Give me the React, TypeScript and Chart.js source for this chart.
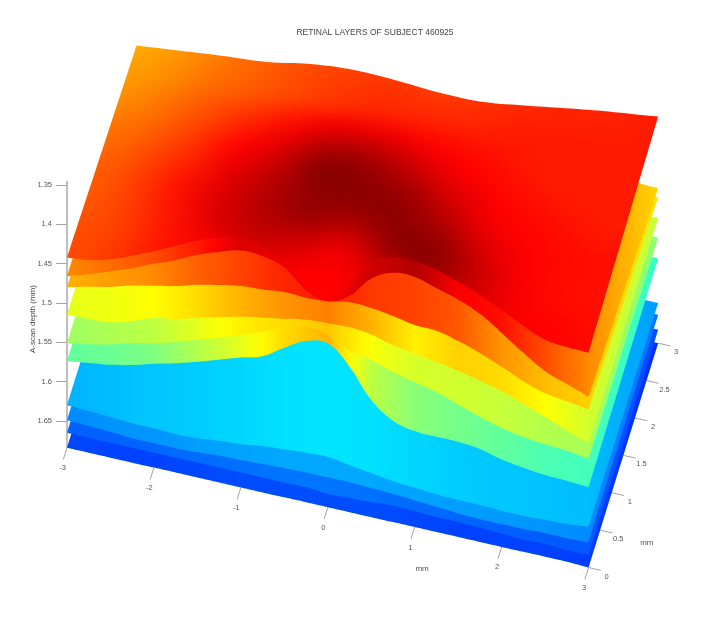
import React, { useEffect, useRef } from "react";
import { Chart, registerables } from "chart.js";

Chart.register(...registerables);

const titleText = "RETINAL LAYERS OF SUBJECT 460925";
const depthAxisTitle = "A-scan depth (mm)";
const axisUnit = "mm";
const depthTicks = [1.35, 1.4, 1.45, 1.5, 1.55, 1.6, 1.65];
const lateralTicks = [-3, -2, -1, 0, 1, 2, 3];
const elevationTicks = [0, 0.5, 1, 1.5, 2, 2.5, 3];

// Depth (mm) of each retinal surface along the front edge, x = -3 .. 3 every 0.25 mm
const surface1Front = [1.442, 1.439, 1.432, 1.421, 1.409, 1.396, 1.383, 1.373, 1.367, 1.373, 1.386, 1.409, 1.421, 1.395, 1.36, 1.348, 1.346, 1.351, 1.36, 1.37, 1.383, 1.397, 1.408, 1.411, 1.412];
const surface2Front = [1.466, 1.457, 1.447, 1.437, 1.425, 1.414, 1.401, 1.391, 1.383, 1.384, 1.392, 1.414, 1.422, 1.409, 1.381, 1.367, 1.366, 1.374, 1.382, 1.394, 1.412, 1.431, 1.448, 1.458, 1.468];
const surface3Front = [1.48, 1.473, 1.467, 1.459, 1.453, 1.447, 1.439, 1.433, 1.428, 1.426, 1.423, 1.424, 1.422, 1.417, 1.418, 1.422, 1.427, 1.428, 1.435, 1.444, 1.455, 1.467, 1.476, 1.48, 1.484];
const surface4Front = [1.515, 1.514, 1.512, 1.504, 1.494, 1.489, 1.481, 1.474, 1.467, 1.462, 1.457, 1.452, 1.45, 1.449, 1.452, 1.459, 1.464, 1.468, 1.473, 1.479, 1.486, 1.496, 1.506, 1.517, 1.527];
const surface5Front = [1.551, 1.546, 1.54, 1.532, 1.526, 1.518, 1.509, 1.5, 1.49, 1.48, 1.469, 1.461, 1.465, 1.479, 1.484, 1.493, 1.5, 1.506, 1.516, 1.525, 1.533, 1.538, 1.541, 1.543, 1.547];
const surface6Front = [1.574, 1.57, 1.566, 1.56, 1.552, 1.545, 1.537, 1.528, 1.519, 1.511, 1.494, 1.479, 1.476, 1.499, 1.535, 1.555, 1.562, 1.563, 1.563, 1.566, 1.573, 1.577, 1.58, 1.581, 1.583];
const surface7Front = [1.63, 1.631, 1.632, 1.634, 1.634, 1.635, 1.634, 1.631, 1.629, 1.625, 1.623, 1.621, 1.62, 1.624, 1.628, 1.632, 1.634, 1.636, 1.637, 1.637, 1.638, 1.638, 1.637, 1.636, 1.633];
const surface8Front = [1.649, 1.65, 1.651, 1.653, 1.653, 1.653, 1.652, 1.65, 1.649, 1.648, 1.647, 1.646, 1.646, 1.646, 1.647, 1.648, 1.65, 1.652, 1.654, 1.655, 1.655, 1.655, 1.654, 1.654, 1.653];
const surface9Front = [1.665, 1.665, 1.665, 1.665, 1.665, 1.665, 1.665, 1.665, 1.665, 1.665, 1.665, 1.665, 1.667, 1.666, 1.665, 1.663, 1.664, 1.665, 1.665, 1.666, 1.667, 1.668, 1.668, 1.669, 1.669];
const surface10Front = [1.684, 1.684, 1.684, 1.684, 1.684, 1.684, 1.684, 1.684, 1.684, 1.684, 1.684, 1.684, 1.684, 1.684, 1.684, 1.684, 1.684, 1.684, 1.684, 1.684, 1.684, 1.684, 1.684, 1.684, 1.685];

// Depth (mm) of each surface at the back-right corner (x = 3, y = 3)
const surfaceBackRight = [1.394, 1.485, 1.497, 1.523, 1.548, 1.574, 1.631, 1.646, 1.665, 1.682];
// Depth (mm) of the top surface along its back edge, x = -3 .. 3 every 0.5 mm
const surface1Back = [1.455, 1.449, 1.443, 1.438, 1.428, 1.423, 1.424, 1.427, 1.426, 1.418, 1.409, 1.401, 1.394];

// Colour-map position of each exposed ribbon, x = -3 .. 3 every 0.5 mm, then the far right edge
const ribbon2Shade = [0.74, 0.77, 0.8, 0.85, 0.91, 0.89, 0.88, 0.92, 0.95, 0.88, 0.86, 0.8, 0.74, 0.665];
const ribbon3Shade = [0.7, 0.72, 0.74, 0.78, 0.81, 0.84, 0.85, 0.82, 0.81, 0.79, 0.73, 0.69, 0.67, 0.65];
const ribbon4Shade = [0.6, 0.61, 0.625, 0.66, 0.7, 0.73, 0.75, 0.7, 0.64, 0.67, 0.66, 0.625, 0.58, 0.57];
const ribbon5Shade = [0.53, 0.545, 0.56, 0.6, 0.64, 0.66, 0.68, 0.62, 0.585, 0.58, 0.57, 0.55, 0.54, 0.51];
const ribbon6Shade = [0.47, 0.48, 0.5, 0.55, 0.6, 0.66, 0.7, 0.56, 0.51, 0.49, 0.47, 0.45, 0.44, 0.43];
const ribbon7Shade = [0.3, 0.31, 0.32, 0.325, 0.335, 0.345, 0.35, 0.345, 0.335, 0.325, 0.32, 0.315, 0.31, 0.28];
const ribbon8Shade = [0.26, 0.27, 0.27, 0.28, 0.285, 0.29, 0.29, 0.29, 0.285, 0.28, 0.275, 0.27, 0.26, 0.24];
const ribbon9Shade = [0.22, 0.22, 0.225, 0.23, 0.235, 0.24, 0.24, 0.235, 0.23, 0.225, 0.22, 0.215, 0.21, 0.2];
const ribbon10Shade = [0.195, 0.19, 0.19, 0.195, 0.2, 0.2, 0.2, 0.2, 0.195, 0.19, 0.19, 0.19, 0.185, 0.17];

// Colour-map position across the top surface: rows y = 0 .. 3 every 0.25, columns x = -3 .. 3 every 0.5
const topShade = [
  [0.8, 0.82, 0.85, 0.865, 0.88, 0.87, 0.875, 0.9, 0.92, 0.92, 0.88, 0.875, 0.865],
  [0.8, 0.82, 0.855, 0.875, 0.9, 0.875, 0.875, 0.9, 0.94, 0.92, 0.885, 0.87, 0.865],
  [0.795, 0.815, 0.855, 0.885, 0.915, 0.9, 0.88, 0.93, 0.97, 0.93, 0.885, 0.865, 0.86],
  [0.79, 0.815, 0.855, 0.905, 0.935, 0.93, 0.9, 0.97, 0.99, 0.93, 0.88, 0.865, 0.86],
  [0.785, 0.815, 0.86, 0.91, 0.95, 0.97, 0.95, 0.985, 0.975, 0.91, 0.875, 0.865, 0.86],
  [0.78, 0.81, 0.855, 0.905, 0.95, 0.98, 0.98, 0.985, 0.945, 0.89, 0.87, 0.86, 0.855],
  [0.77, 0.8, 0.84, 0.895, 0.94, 0.99, 0.985, 0.97, 0.92, 0.88, 0.865, 0.855, 0.85],
  [0.76, 0.785, 0.825, 0.875, 0.92, 0.985, 0.975, 0.94, 0.895, 0.87, 0.855, 0.85, 0.85],
  [0.745, 0.77, 0.805, 0.85, 0.89, 0.94, 0.94, 0.905, 0.875, 0.86, 0.85, 0.85, 0.85],
  [0.73, 0.755, 0.79, 0.82, 0.855, 0.885, 0.89, 0.87, 0.86, 0.855, 0.85, 0.85, 0.85],
  [0.72, 0.74, 0.77, 0.79, 0.81, 0.83, 0.84, 0.84, 0.84, 0.85, 0.85, 0.85, 0.85],
  [0.71, 0.73, 0.76, 0.785, 0.805, 0.82, 0.83, 0.825, 0.83, 0.84, 0.845, 0.845, 0.85],
  [0.7, 0.72, 0.75, 0.78, 0.8, 0.81, 0.82, 0.81, 0.82, 0.83, 0.84, 0.84, 0.85],
];

const surfaces = [surface1Front, surface2Front, surface3Front, surface4Front, surface5Front, surface6Front, surface7Front, surface8Front, surface9Front, surface10Front];
const ribbons = [null, ribbon2Shade, ribbon3Shade, ribbon4Shade, ribbon5Shade, ribbon6Shade, ribbon7Shade, ribbon8Shade, ribbon9Shade, ribbon10Shade];

// Oblique view of the three data axes
const PX_PER_MM_X = 87;
const PX_PER_MM_DEPTH = 786.7;
const SKEW_X_PER_Y = 23.2 / 87;
const TILT_PER_X = 19.83 / PX_PER_MM_DEPTH;
const TILT_PER_Y = 74 / PX_PER_MM_DEPTH;

const project = (x: number, y: number, d: number) => ({
  x: x + 3 + y * SKEW_X_PER_Y,
  y: d + (x + 3) * TILT_PER_X - y * TILT_PER_Y,
});

const jet = (t: number) => {
  const c = (v: number) => Math.round(255 * Math.max(0, Math.min(1, v)));
  return [c(Math.min(4 * t - 1.5, -4 * t + 4.5)), c(Math.min(4 * t - 0.5, -4 * t + 3.5)), c(Math.min(4 * t + 0.5, -4 * t + 2.5))];
};
const jetCss = (t: number) => `rgb(${jet(t).join(",")})`;

// Corner points appear twice so the curve smoothing keeps them sharp.
const polygon = (i: number) => {
  const front = surfaces[i];
  const pts = front.map((d, k) => project(-3 + k * 0.25, 0, d));
  pts.unshift(pts[0]);
  pts.push(pts[pts.length - 1]);
  if (i === 0) {
    const back: { x: number; y: number }[] = [];
    for (let k = surface1Back.length - 1; k >= 0; k--) back.push(project(-3 + k * 0.5, 3, surface1Back[k]));
    pts.push(back[0], ...back, back[back.length - 1]);
  } else {
    const br = project(3, 3, surfaceBackRight[i]);
    const bl = project(-3, 3, front[0]);
    pts.push(br, br, bl, bl);
  }
  pts.push(pts[0], pts[0]);
  return pts;
};

const segment = (a: { x: number; y: number }, b: { x: number; y: number }, color: string) => ({
  type: "scatter",
  data: [a, b],
  showLine: true,
  fill: false,
  pointRadius: 0,
  borderColor: color,
  borderWidth: 1,
  clip: false,
});

export default function App() {
  const ref = useRef<HTMLCanvasElement | null>(null);

  useEffect(() => {
    document.body.style.margin = "0";
    document.body.style.background = "#fff";
    const canvas = ref.current!;
    const baseDepth = (x: number) => surface10Front[Math.round((x + 3) * 4)];

    const surfaceSets = surfaces.map((_, i) => ({
      type: "scatter",
      data: polygon(i),
      showLine: true,
      fill: "shape",
      tension: 0.4,
      pointRadius: 0,
      borderWidth: 0,
      borderColor: "transparent",
      backgroundColor: "#ff2000",
      clip: false,
    }));
    const tickColor = "#a2a2a2";
    const axisSets = [
      segment(project(-3, 0, 1.345), project(-3, 0, 1.684), "#b4b4b4"),
      ...lateralTicks.map((x) => segment(project(x, 0, baseDepth(x)), project(x, -0.16, baseDepth(x)), tickColor)),
      ...elevationTicks.map((y) => {
        const d = 1.685 + ((surfaceBackRight[9] - 1.685) * y) / 3;
        return segment(project(3, y, d), project(3.14, y, d), tickColor);
      }),
    ];

    const textPlugin = {
      id: "obliqueAxisText",
      afterDatasetsDraw(chart: any) {
        const { x: sx, y: sy } = chart.scales;
        const ctx = chart.ctx;
        const put = (p: { x: number; y: number }, text: string, dx: number, dy: number, size = 7.5) => {
          ctx.save();
          ctx.font = `${size}px "Liberation Sans"`;
          ctx.fillStyle = "#555";
          ctx.textAlign = "center";
          ctx.textBaseline = "middle";
          ctx.fillText(text, sx.getPixelForValue(p.x) + dx, sy.getPixelForValue(p.y) + dy);
          ctx.restore();
        };
        lateralTicks.forEach((x) => put(project(x, 0, baseDepth(x)), String(x), -4.5, 20.5));
        elevationTicks.forEach((y) => {
          const d = 1.685 + ((surfaceBackRight[9] - 1.685) * y) / 3;
          put(project(3, y, d), String(y), 18, 9);
        });
        put(project(1.2, 0, baseDepth(1.25)), axisUnit, -10, 38, 8);
        put(project(3, 0.7, 1.684), axisUnit, 42, 28, 8);
      },
    };

    const chart = new Chart(canvas, {
      type: "scatter",
      data: { datasets: [...surfaceSets, ...axisSets] as any },
      plugins: [textPlugin],
      options: {
        responsive: false,
        animation: false,
        events: [],
        layout: { padding: { left: 28, right: 0, top: 0, bottom: 30 } },
        plugins: {
          legend: { display: false },
          tooltip: { enabled: false },
          title: {
            display: true,
            text: titleText,
            color: "#444",
            font: { family: "Liberation Sans", size: 8.5, weight: "normal" },
            padding: { top: 28, bottom: 2 },
          },
        },
        scales: {
          x: { type: "linear", display: false, min: 0, max: 7.5 },
          y: {
            type: "linear",
            reverse: true,
            min: 1.35 - 145 / PX_PER_MM_DEPTH,
            max: 1.35 + 413 / PX_PER_MM_DEPTH,
            border: { display: false },
            grid: { drawOnChartArea: false, drawTicks: true, tickLength: 11, color: tickColor },
            title: {
              display: true,
              text: depthAxisTitle,
              color: "#444",
              font: { family: "Liberation Sans", size: 8 },
              padding: { top: 0, bottom: 0 },
            },
            ticks: {
              autoSkip: false,
              color: "#555",
              padding: 4,
              font: { family: "Liberation Sans", size: 7.5 },
              callback: (v: any) => String(v),
            },
            afterBuildTicks: (scale: any) => {
              scale.ticks = depthTicks.map((value) => ({ value }));
            },
            afterFit: (scale: any) => {
              scale.width = 39;
            },
          },
        },
      } as any,
    });

    // Fit the axis ranges to the laid-out plot area, so one scale unit is a fixed number of pixels.
    const area = chart.chartArea;
    const yOpts = (chart.options.scales as any).y;
    const xOpts = (chart.options.scales as any).x;
    yOpts.min = 1.35 - (185 - area.top) / PX_PER_MM_DEPTH;
    yOpts.max = 1.35 + (area.bottom - 185) / PX_PER_MM_DEPTH;
    xOpts.max = (area.right - area.left) / PX_PER_MM_X;
    chart.update();

    const ctx = canvas.getContext("2d")!;
    const px = (p: { x: number; y: number }) => ({ x: chart.scales.x.getPixelForValue(p.x), y: chart.scales.y.getPixelForValue(p.y) });

    // Lower surfaces: colour varies along the ribbon, following the colour map between stations
    const leftPx = px(project(-3, 0, 1.5)).x;
    const rightPx = px(project(3, 3, 1.5)).x;
    const stationPx = (k: number) => (k < 13 ? px(project(-3 + k * 0.5, 0, 1.5)).x : rightPx);
    ribbons.forEach((shades, i) => {
      if (!shades) return;
      const g = ctx.createLinearGradient(leftPx, 0, rightPx, 0);
      shades.forEach((t, k) => {
        g.addColorStop((stationPx(k) - leftPx) / (rightPx - leftPx), jetCss(t));
        if (k + 1 < shades.length) {
          for (let s = 1; s < 4; s++) {
            const at = stationPx(k) + ((stationPx(k + 1) - stationPx(k)) * s) / 4;
            g.addColorStop((at - leftPx) / (rightPx - leftPx), jetCss(t + ((shades[k + 1] - t) * s) / 4));
          }
        }
      });
      (chart.data.datasets[i] as any).backgroundColor = g;
    });

    // Top surface: colour table stretched over the surface plane
    const PAD = 2;
    const rows = topShade.length;
    const cols = topShade[0].length;
    const small = document.createElement("canvas");
    small.width = cols + PAD * 2;
    small.height = rows + PAD * 2;
    const sctx = small.getContext("2d")!;
    const img = sctx.createImageData(small.width, small.height);
    for (let r = 0; r < small.height; r++) {
      for (let c = 0; c < small.width; c++) {
        const rr = Math.max(0, Math.min(rows - 1, r - PAD));
        const cc = Math.max(0, Math.min(cols - 1, c - PAD));
        const [R, G, B] = jet(topShade[rr][cc]);
        const o = (r * small.width + c) * 4;
        img.data[o] = R;
        img.data[o + 1] = G;
        img.data[o + 2] = B;
        img.data[o + 3] = 255;
      }
    }
    sctx.putImageData(img, 0, 0);
    const O = px(project(-3, 0, 1.442));
    const Ex = px(project(3, 0, 1.397));
    const Ey = px(project(-3, 3, 1.44));
    const a = (Ex.x - O.x) / (cols - 1);
    const b = (Ex.y - O.y) / (cols - 1);
    const c = (Ey.x - O.x) / (rows - 1);
    const d = (Ey.y - O.y) / (rows - 1);
    const big = document.createElement("canvas");
    big.width = canvas.width;
    big.height = canvas.height;
    const bctx = big.getContext("2d")!;
    bctx.imageSmoothingEnabled = true;
    bctx.imageSmoothingQuality = "high";
    (bctx as any).filter = "blur(4px)";
    bctx.setTransform(a, b, c, d, O.x - (PAD + 0.5) * (a + c), O.y - (PAD + 0.5) * (b + d));
    bctx.drawImage(small, 0, 0);
    (chart.data.datasets[0] as any).backgroundColor = ctx.createPattern(big, "no-repeat");
    chart.update();

    return () => chart.destroy();
  }, []);

  return (
    <canvas
      ref={ref}
      width={722}
      height={628}
      style={{ display: "block", width: 722, height: 628, filter: "blur(0.5px)" }}
    />
  );
}
